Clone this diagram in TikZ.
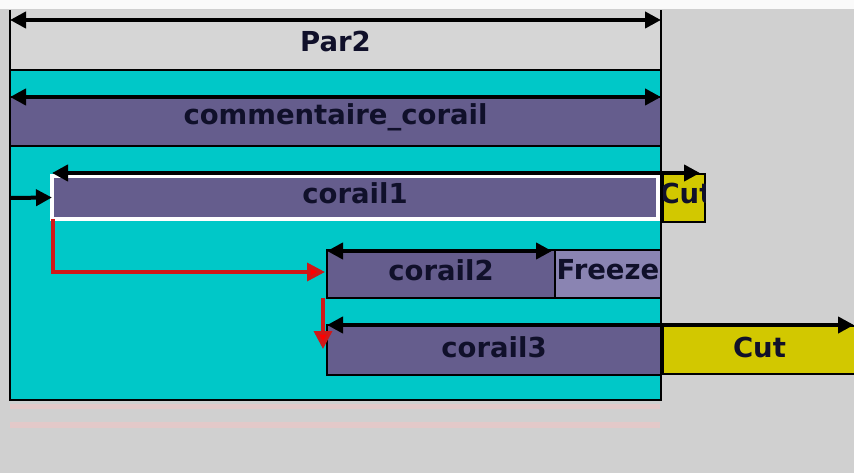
\documentclass[tikz,border=0pt]{standalone}
\usepackage{fontspec}
\setmainfont{DejaVu Sans}
\usetikzlibrary{arrows.meta}
\definecolor{bg}{HTML}{D0D0D0}
\definecolor{parfill}{HTML}{D6D6D6}
\definecolor{cyanfill}{HTML}{00C8C8}
\definecolor{purp}{HTML}{655D8D}
\definecolor{freezefill}{HTML}{8A84B2}
\definecolor{yel}{HTML}{D2C800}
\definecolor{txt}{HTML}{10102A}
\definecolor{redln}{HTML}{D01818}
\begin{document}
\begin{tikzpicture}[x=1pt,y=-1pt,
  box/.style={draw=black, line width=2pt, inner sep=0pt, outer sep=0pt, anchor=north west},
  lbl/.style={font=\bfseries\fontsize{27.5}{27.5}\selectfont, text=txt, inner sep=0pt},
  dbl/.style={line width=4pt, {Triangle[length=16pt,width=16pt]}-{Triangle[length=16pt,width=16pt]}},
  sgl/.style={line width=4pt, -{Triangle[length=16pt,width=16pt]}},
  redarr/.style={draw=redln, line width=3.5pt, -{Triangle[length=18pt,width=18pt,fill=red]}}]
\useasboundingbox (0,0) rectangle (854,473);
\fill[bg] (0,0) rectangle (854,473);
\fill[white!90!bg] (0,0) rectangle (854,9);
% faint lines under the block
\fill[pink!40!bg] (10,404) rectangle (660,409);
\fill[pink!40!bg] (10,422) rectangle (660,428);

% Par2
\node[box, draw=none, fill=parfill, minimum width=651pt, minimum height=60pt] (par2) at (10,10) {};
\draw[line width=2pt] (par2.north west) -- (par2.south west) -- (par2.south east) -- (par2.north east);
\node[lbl, yshift=-1pt] (par2l) at (par2.center) {Par2};
\draw[dbl] ([yshift=-10pt]par2.north west) -- ([yshift=-10pt]par2.north east);

% cyan container
\node[box, fill=cyanfill, minimum width=651pt, minimum height=330pt] (cont) at (10,70) {};

% commentaire_corail
\node[box, fill=purp, minimum width=651pt, minimum height=49pt] (cc) at (10,97) {};
\node[lbl, yshift=4pt] (ccl) at (cc.center) {commentaire\_corail};
\draw[dbl] (cc.north west) -- (cc.north east);

% corail1 with Cut
\node[box, draw=white, line width=4.5pt, fill=purp, minimum width=606pt, minimum height=43pt] (c1) at (52,176) {};
\node[lbl, yshift=4pt] (c1l) at (c1.center) {corail1};
\node[box, fill=yel, minimum width=42pt, minimum height=48pt] (cut1) at (663,174) {};
\begin{scope}
  \clip (cut1.north west) rectangle (cut1.south east);
  \node[lbl, yshift=5pt, xshift=2pt] (cut1l) at (cut1.center) {Cut};
\end{scope}
\draw[dbl] ([yshift=3pt]c1.north west) -- ([xshift=-5pt,yshift=1pt]cut1.north east);
\coordinate (inl) at (10,198);
\draw[sgl] (inl) -- (c1.west);

% corail2 with Freeze
\node[box, fill=purp, minimum width=228pt, minimum height=48pt] (c2) at (327,250) {};
\node[lbl, yshift=4pt] (c2l) at (c2.center) {corail2};
\node[box, fill=freezefill, minimum width=106pt, minimum height=48pt] (frz) at (555,250) {};
\node[lbl, yshift=4pt] (frzl) at (frz.center) {Freeze};
\draw[dbl] ([yshift=-1pt]c2.north west) -- ([xshift=-3pt,yshift=-1pt]c2.north east);

% corail3 with Cut
\node[box, fill=purp, minimum width=334pt, minimum height=50pt] (c3) at (327,325) {};
\node[lbl, yshift=3pt] (c3l) at (c3.center) {corail3};
\node[box, fill=yel, minimum width=193pt, minimum height=48pt] (cut3) at (663,326) {};
\node[lbl, yshift=3pt] (cut3l) at (cut3.center) {Cut};
\draw[dbl] (c3.north west) -- ([xshift=-2pt,yshift=1pt]cut3.north east);

% red connectors
\draw[redarr] ([xshift=1pt]c1.south west) |- ([xshift=-2pt,yshift=-22pt]c2.north west);
\draw[redarr] ([xshift=-4pt]c2.south west) -- ([xshift=-4pt,yshift=-24pt]c3.north west);
\end{tikzpicture}
\end{document}
